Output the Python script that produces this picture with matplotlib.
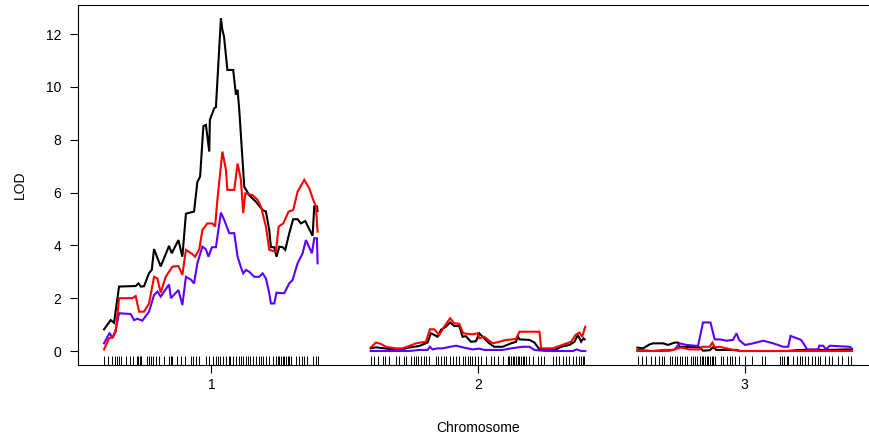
import matplotlib
matplotlib.use("Agg")
import matplotlib.pyplot as plt
import matplotlib.transforms as mtransforms

plt.rcParams["font.family"] = ["Liberation Sans", "DejaVu Sans"]

CHROMS = ["1", "2", "3"]
CHR_LENGTH = [103.0, 103.0, 103.0]
GAP = 25.0

# LOD curves, positions in cM within each chromosome
CHR1_BLACK_POS = [0, 3.2, 4.8, 7.2, 15.2, 16.5, 17.6, 19.2, 21.6, 22.9, 24.0, 27.2, 31.2, 32.5,
                  35.7, 37.6, 39.3, 43.2, 44.8, 46.1, 47.7, 48.9, 50.5, 50.8, 52.9, 53.7, 56.1,
                  56.8, 57.6, 59.2, 62.0, 63.3, 64.1, 64.9, 67.3, 69.7, 72.9, 76.1, 77.7, 79.3,
                  80.1, 81.7, 82.8, 84.1, 85.7, 87.0, 88.9, 90.8, 92.9, 94.5, 96.6, 100.1,
                  100.9, 102.2, 102.5]
CHR1_BLACK_LOD = [0.82, 1.17, 1.07, 2.44, 2.46, 2.56, 2.44, 2.45, 2.95, 3.07, 3.86, 3.2, 3.98, 3.7,
                  4.2, 3.57, 5.2, 5.28, 6.4, 6.6, 8.52, 8.56, 7.55, 8.75, 9.19, 9.23, 12.6,
                  12.16, 11.9, 10.64, 10.64, 9.7, 9.89, 9.13, 6.22, 5.9, 5.65, 5.34, 5.28, 4.58,
                  3.93, 3.93, 3.57, 3.95, 3.93, 3.83, 4.46, 4.99, 4.99, 4.83, 4.92, 4.36,
                  5.47, 5.47, 5.3]
CHR1_RED_POS = [0, 2.4, 4.3, 5.6, 7.2, 13.6, 15.2, 16.8, 19.2, 21.6, 24.0, 25.6, 27.2, 29.6,
                32.8, 35.7, 37.6, 39.3, 42.4, 43.7, 45.7, 47.2, 49.6, 52.0, 53.3, 54.4, 56.8,
                58.5, 59.2, 62.5, 64.1, 65.7, 66.8, 67.8, 71.3, 73.7, 75.3, 77.7, 79.3, 82.5,
                83.8, 86.0, 88.6, 90.8, 92.9, 96.1, 98.5, 100.4, 101.7, 102.5]
CHR1_RED_LOD = [0.06, 0.48, 0.54, 0.73, 2.0, 2.0, 2.08, 1.49, 1.49, 1.8, 2.81, 2.75, 2.21, 2.81,
                3.19, 3.22, 2.88, 3.83, 3.67, 3.57, 3.85, 4.58, 4.83, 4.83, 4.71, 5.72, 7.55,
                6.86, 6.1, 6.1, 7.1, 6.48, 5.22, 5.97, 5.9, 5.72, 5.47, 4.71, 3.83, 3.76,
                4.71, 4.83, 5.28, 5.34, 6.03, 6.48, 6.16, 5.72, 5.47, 4.52]
CHR1_BLUE_POS = [0, 2.7, 4.0, 5.6, 7.2, 12.8, 14.4, 16.0, 18.4, 21.6, 24.0, 25.6, 27.2, 31.2,
                 32.1, 35.7, 37.6, 39.3, 41.7, 43.2, 44.8, 47.2, 48.9, 50.1, 51.8, 53.7, 56.1,
                 57.7, 60.1, 62.5, 64.1, 65.7, 66.8, 68.1, 69.7, 72.1, 74.5, 76.1, 77.7, 79.3,
                 80.1, 81.7, 82.8, 84.9, 86.5, 88.9, 90.5, 92.9, 95.3, 96.9, 99.8, 100.9,
                 102.2, 102.5]
CHR1_BLUE_LOD = [0.29, 0.69, 0.48, 0.8, 1.43, 1.4, 1.17, 1.22, 1.15, 1.49, 2.12, 2.25, 2.06, 2.52,
                 2.0, 2.31, 1.74, 2.81, 2.7, 2.56, 3.32, 3.95, 3.85, 3.57, 3.93, 3.93, 5.24,
                 4.96, 4.46, 4.46, 3.57, 3.17, 2.94, 3.07, 3.0, 2.81, 2.81, 2.94, 2.75, 2.19,
                 1.8, 1.8, 2.21, 2.19, 2.19, 2.56, 2.69, 3.32, 3.7, 4.2, 3.7, 4.27,
                 4.27, 3.32]

CHR2_BLACK_POS = [0, 2.5, 6.5, 13.7, 18.5, 23.3, 27.3, 28.9, 30.5, 32.1, 33.7, 36.1, 38.1, 40.1,
                  42.5, 44.1, 45.7, 48.1, 50.5, 52.1, 54.5, 56.9, 59.3, 63.3, 67.4, 69.8, 70.5,
                  71.4, 76.2, 78.6, 81.0, 89.0, 91.4, 95.4, 97.8, 99.4, 101.0, 102.1, 102.7]
CHR2_BLACK_LOD = [0.10, 0.14, 0.10, 0.04, 0.13, 0.19, 0.32, 0.67, 0.61, 0.54, 0.80, 0.92, 1.08,
                  0.95, 0.95, 0.54, 0.56, 0.35, 0.37, 0.67, 0.48, 0.29, 0.16, 0.16, 0.29, 0.35,
                  0.57, 0.44, 0.42, 0.32, 0.06, 0.06, 0.16, 0.23, 0.35, 0.61, 0.35, 0.48, 0.44]
CHR2_RED_POS = [0, 2.5, 4.9, 7.3, 12.1, 15.3, 18.5, 21.7, 26.5, 28.4, 30.5, 32.9, 35.3, 38.1,
                40.1, 42.5, 44.4, 48.9, 51.3, 52.1, 54.5, 58.5, 61.7, 65.0, 68.1, 69.8, 71.4,
                76.2, 81.0, 81.8, 87.4, 90.6, 96.2, 98.3, 100.2, 101.5, 103.0]
CHR2_RED_LOD = [0.13, 0.32, 0.27, 0.16, 0.10, 0.10, 0.19, 0.29, 0.35, 0.82, 0.82, 0.61, 0.92,
                1.24, 1.05, 1.03, 0.67, 0.63, 0.67, 0.48, 0.54, 0.29, 0.35, 0.42, 0.44, 0.47,
                0.73, 0.73, 0.73, 0.10, 0.10, 0.19, 0.35, 0.61, 0.70, 0.54, 0.92]
CHR2_BLUE_POS = [0, 18.5, 23.3, 27.3, 28.4, 29.7, 32.1, 34.5, 36.9, 40.9, 44.1, 48.9, 52.1, 54.5,
                 63.3, 67.4, 72.9, 76.2, 78.6, 84.2, 97.0, 98.9, 101.0, 103.0]
CHR2_BLUE_LOD = [0.0, 0.0, 0.04, 0.04, 0.16, 0.06, 0.10, 0.10, 0.14, 0.20, 0.14, 0.06, 0.09, 0.04,
                 0.04, 0.10, 0.16, 0.16, 0.04, 0.0, 0.0, 0.06, 0.0, 0.0]

CHR3_BLACK_POS = [0, 2.7, 5.9, 7.5, 12.3, 14.7, 17.9, 19.5, 20.3, 29.9, 31.5, 34.7, 36.3, 38.0,
                  47.6, 49.2, 71.6, 78.0, 92.4, 100.4, 103.0]
CHR3_BLACK_LOD = [0.13, 0.10, 0.25, 0.29, 0.29, 0.23, 0.32, 0.32, 0.16, 0.14, 0.01, 0.03, 0.14,
                  0.04, 0.04, 0.0, 0.0, 0.04, 0.04, 0.06, 0.06]
CHR3_RED_POS = [0, 7.5, 12.3, 17.1, 19.5, 21.1, 25.1, 29.9, 31.2, 34.7, 36.0, 37.1, 39.5, 45.9,
                49.2, 103.0]
CHR3_RED_LOD = [0.0, 0.0, 0.04, 0.04, 0.10, 0.13, 0.06, 0.06, 0.16, 0.16, 0.32, 0.14, 0.16, 0.04,
                0.0, 0.0]
CHR3_BLUE_POS = [0, 7.5, 15.5, 17.9, 20.3, 23.5, 29.1, 31.5, 35.1, 37.1, 39.5, 42.8, 45.9, 47.6,
                 48.8, 51.6, 55.6, 60.4, 65.2, 70.0, 72.4, 73.5, 75.6, 78.0, 78.8, 81.5, 86.8,
                 87.3, 89.2, 90.5, 92.4, 102.0, 103.0]
CHR3_BLUE_LOD = [0.04, 0.0, 0.01, 0.06, 0.29, 0.23, 0.19, 1.08, 1.08, 0.44, 0.44, 0.39, 0.42,
                 0.67, 0.42, 0.23, 0.29, 0.39, 0.29, 0.16, 0.16, 0.57, 0.51, 0.44, 0.40, 0.06,
                 0.06, 0.20, 0.20, 0.06, 0.20, 0.16, 0.08]

# marker positions (cM) for the rug
CHR1_MARKERS = [0, 2.1, 4.0, 5.1, 6.1, 7.2, 8.3, 10.4, 12.3, 14.1, 15.7, 16.5, 17.1, 17.9, 20.8,
                21.6, 22.4, 23.6, 24.8, 26.4, 28.8, 31.3, 32.0, 32.8, 34.8, 36.9, 38.9, 41.7,
                42.8, 44.1, 45.7, 48.9, 50.5, 52.1, 53.7, 54.8, 55.6, 56.9, 58.5, 59.8, 60.6,
                61.7, 63.3, 64.6, 65.7, 66.8, 68.1, 68.9, 70.0, 71.3, 72.9, 74.2, 75.3, 76.4,
                77.7, 79.3, 80.9, 82.5, 83.3, 84.1, 84.9, 85.7, 86.5, 87.3, 88.1, 88.9, 89.7,
                92.1, 93.7, 94.9, 96.2, 97.3, 100.2, 101.8, 102.6]
CHR2_MARKERS = [0, 1.4, 3.3, 5.7, 6.8, 8.9, 12.1, 13.7, 15.8, 16.9, 19.3, 20.6, 21.7, 22.8, 24.1,
                25.4, 26.5, 28.1, 31.3, 32.4, 33.7, 35.0, 36.1, 38.2, 39.3, 40.9, 42.5, 44.1,
                45.3, 46.5, 47.8, 48.5, 50.1, 51.3, 52.9, 55.3, 57.7, 59.3, 60.9, 63.4, 65.8,
                66.6, 67.4, 68.2, 69.0, 69.8, 70.6, 71.4, 72.2, 73.0, 73.8, 74.6, 76.2, 77.8,
                80.2, 81.8, 83.4, 87.4, 89.0, 90.6, 92.2, 93.8, 95.4, 97.0, 98.6, 100.2, 101.0,
                101.8, 102.6]
CHR3_MARKERS = [0.3, 2.2, 4.3, 6.4, 8.3, 10.3, 11.9, 12.8, 15.5, 16.7, 17.9, 19.1, 20.3, 21.5,
                22.7, 24.0, 25.6, 26.7, 27.6, 28.8, 30.0, 30.8, 31.6, 32.4, 33.2, 34.0, 34.8,
                35.6, 36.4, 37.2, 40.0, 41.2, 42.8, 44.4, 45.5, 46.8, 48.7, 51.6, 54.8, 59.6,
                61.2, 68.4, 69.5, 70.5, 71.6, 72.4, 74.8, 76.4, 78.0, 79.1, 80.4, 82.0, 83.6,
                85.2, 86.8, 87.6, 90.0, 91.9, 93.2, 96.4, 98.0, 101.2, 102.5]

Y_TICKS = [0, 2, 4, 6, 8, 10, 12]

BLACK = "black"
BLUE = "#5c00ff"
RED = "#ff0000"

curves = [
    [(CHR1_BLACK_POS, CHR1_BLACK_LOD), (CHR2_BLACK_POS, CHR2_BLACK_LOD), (CHR3_BLACK_POS, CHR3_BLACK_LOD)],
    [(CHR1_BLUE_POS, CHR1_BLUE_LOD), (CHR2_BLUE_POS, CHR2_BLUE_LOD), (CHR3_BLUE_POS, CHR3_BLUE_LOD)],
    [(CHR1_RED_POS, CHR1_RED_LOD), (CHR2_RED_POS, CHR2_RED_LOD), (CHR3_RED_POS, CHR3_RED_LOD)],
]
colors = [BLACK, BLUE, RED]
markers = [CHR1_MARKERS, CHR2_MARKERS, CHR3_MARKERS]

# chromosome offsets on the concatenated axis
offsets = []
start = 0.0
for length in CHR_LENGTH:
    offsets.append(start)
    start += length + GAP
x_end = offsets[-1] + CHR_LENGTH[-1]

fig = plt.figure(figsize=(8.7, 4.37), dpi=100)
ax = fig.add_axes([78 / 870, 72 / 437, 800 / 870, 360 / 437])

for chrom_curves, color in zip(curves, colors):
    for off, (pos, lod) in zip(offsets, chrom_curves):
        ax.plot([off + p for p in pos], lod, color=color, lw=1.5, solid_joinstyle="miter")

trans = mtransforms.blended_transform_factory(ax.transData, ax.transAxes)
for off, mk in zip(offsets, markers):
    ax.vlines([off + m for m in mk], 0, 0.026, transform=trans, color="black", lw=0.7)

ax.set_xlim(-GAP / 2, x_end + GAP / 2)
ax.set_ylim(-0.53, 13.1)

mids = [off + length / 2 for off, length in zip(offsets, CHR_LENGTH)]
ax.set_xticks(mids)
ax.set_xticklabels(CHROMS)
ax.set_yticks(Y_TICKS)
ax.tick_params(axis="both", direction="out", length=6, width=0.8, labelsize=10, colors="black")
ax.tick_params(axis="x", pad=3.5)
ax.tick_params(axis="y", pad=6)
ax.spines["right"].set_visible(False)
for s in ["left", "top", "bottom"]:
    ax.spines[s].set_linewidth(0.8)

ax.set_xlabel("Chromosome", fontsize=10, labelpad=21)
ax.set_ylabel("LOD", fontsize=10, labelpad=14)

fig.savefig("out.png", dpi=100)
